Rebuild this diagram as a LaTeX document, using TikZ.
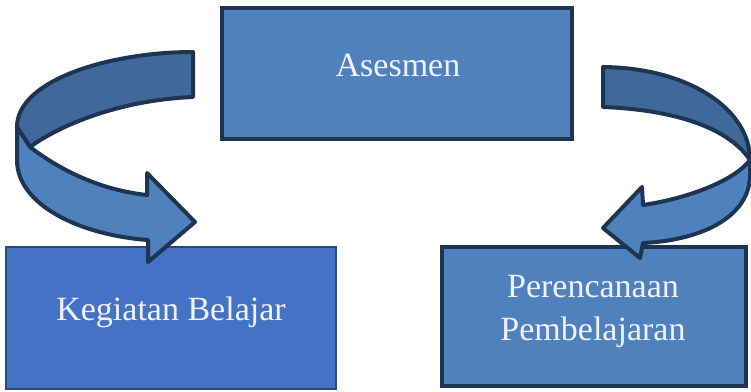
\documentclass[tikz,border=0pt]{standalone}
\usepackage{fontspec}
\setmainfont{Liberation Serif}
\usetikzlibrary{positioning}
\definecolor{boxblue}{HTML}{4F81BD}
\definecolor{boxbright}{HTML}{4472C4}
\definecolor{bandback}{HTML}{41689A}
\definecolor{rim}{HTML}{1D3452}
\definecolor{rimthin}{HTML}{2C4A75}
\begin{document}
\begin{tikzpicture}[x=1pt,y=-1pt,
  box/.style={draw=rim,line width=4.5pt,fill=boxblue,inner sep=0pt},
  thinbox/.style={draw=rimthin,line width=2pt,fill=boxbright,inner sep=0pt},
  lbl/.style={text=white!94!blue,font=\fontsize{34}{43}\selectfont,inner sep=0pt},
  bandfront/.style={draw=rim,line width=4pt,line join=round,fill=boxblue},
  bandrear/.style={draw=rim,line width=4pt,line join=round,fill=bandback}]
  \useasboundingbox (0,0) rectangle (751,391);
  % boxes
  \node[box,minimum width=350pt,minimum height=131pt] (asesmen) at (397,73.5) {};
  \node[thinbox,minimum width=330pt,minimum height=142pt] (kegiatan) at (171,317.5) {};
  \node[box,line width=4pt,minimum width=304pt,minimum height=139pt] (rencana) at (594,316.5) {};
  \node[lbl,anchor=base] (asesmentext) at (398,76) {Asesmen};
  \node[lbl,anchor=base] (kegiatantext) at (171,320) {Kegiatan Belajar};
  \node[lbl,align=center] (rencanatext) at (593,311) {Perencanaan\\Pembelajaran};
  % left curved arrow
  \draw[bandrear] (193,52) -- (193,97)
    .. controls (120,100) and (60,125) .. (30,147) -- (17,127)
    .. controls (17,80) and (110,52) .. (193,52) -- cycle;
  \draw[bandfront] (17,127) -- (30,147)
    .. controls (60,170) and (100,190) .. (147,195) -- (147,173)
    -- (195,222) -- (148,262) -- (148,240)
    .. controls (80,235) and (17,205) .. (17,160) -- cycle;
  % right curved arrow
  \draw[bandrear] (603,67)
    .. controls (690,68) and (750,110) .. (750,160)
    .. controls (730,130) and (680,110) .. (603,107) -- cycle;
  \draw[bandfront] (750,160) -- (750,175)
    .. controls (750,215) and (705,240) .. (643,243) -- (640,258)
    -- (603,228) -- (642,187) -- (643,205)
    .. controls (690,198) and (735,180) .. (750,160) -- cycle;
\end{tikzpicture}
\end{document}
